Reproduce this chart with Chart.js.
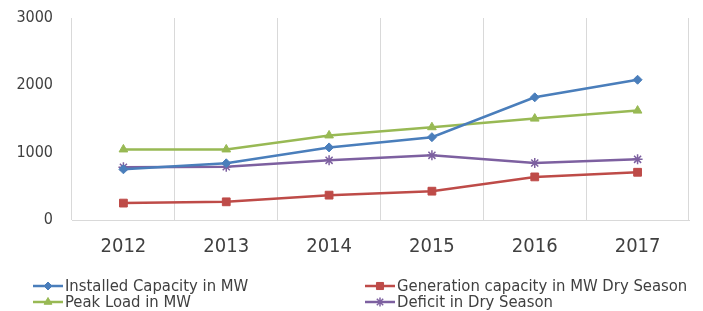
<!DOCTYPE html>
<html lang="en">
<head>
    <meta charset="UTF-8">
    <title>Capacity and Load</title>
    <style>
        body { margin: 0; background: #fff; }
        #wrap { width: 703px; height: 311px; position: relative; }
    </style>
    <script src="https://cdn.jsdelivr.net/npm/chart.js"></script>
</head>
<body>
<div id="wrap"><canvas id="grafico" width="703" height="311"></canvas></div>

<script>
    const anos = ['2012', '2013', '2014', '2015', '2016', '2017'];
    const instalada = [753, 842, 1078, 1230, 1822, 2083];
    const geracao = [251, 270, 369, 428, 640, 709];
    const pico = [1048, 1048, 1256, 1378, 1506, 1625];
    const deficit = [783, 790, 886, 960, 846, 901];
    const ticksY = [0, 1000, 2000, 3000];

    const fonte = '"Liberation Sans Narrow", "DejaVu Sans Condensed", sans-serif';

    function serie(label, data, cor, estilo, raio) {
        return {
            label, data,
            borderColor: cor,
            backgroundColor: cor,
            borderWidth: 2.5,
            pointStyle: estilo,
            pointRadius: raio,
            pointHoverRadius: raio,
            pointBorderWidth: estilo === 'star' ? 1.5 : 1,
            tension: 0
        };
    }

    // legenda em duas colunas, como no original
    const legendaColunas = {
        id: 'legendaColunas',
        afterDraw(chart) {
            const ctx = chart.ctx;
            const pos = [[33, 286], [365, 286], [33, 302], [365, 302]];
            chart.data.datasets.forEach((ds, i) => {
                const [x, y] = pos[i];
                ctx.save();
                ctx.strokeStyle = ds.borderColor;
                ctx.lineWidth = 2.5;
                ctx.beginPath();
                ctx.moveTo(x, y);
                ctx.lineTo(x + 30, y);
                ctx.stroke();
                ctx.fillStyle = ds.backgroundColor;
                ctx.lineWidth = ds.pointBorderWidth;
                if (Chart.helpers && Chart.helpers.drawPoint) {
                    Chart.helpers.drawPoint(ctx, {
                        pointStyle: ds.pointStyle,
                        radius: ds.pointRadius - 0.5,
                        rotation: 0,
                        borderWidth: ds.pointBorderWidth
                    }, x + 15, y);
                }
                ctx.fillStyle = '#404040';
                ctx.font = '16.5px ' + fonte;
                ctx.textBaseline = 'middle';
                ctx.fillText(ds.label, x + 32, y + 1);
                ctx.restore();
            });
        }
    };

    new Chart(document.getElementById('grafico'), {
        type: 'line',
        data: {
            labels: anos,
            datasets: [
                serie('Installed Capacity in MW', instalada, '#4A7EBB', 'rectRot', 4.5),
                serie('Generation capacity in MW Dry Season', geracao, '#BE4B48', 'rect', 5.5),
                serie('Peak Load in MW', pico, '#98B954', 'triangle', 5),
                serie('Deficit in Dry Season', deficit, '#7D60A0', 'star', 5)
            ]
        },
        options: {
            responsive: false,
            animation: false,
            devicePixelRatio: 1,
            layout: { padding: { left: 0, right: 14, top: 0, bottom: 0 } },
            plugins: {
                legend: { display: false },
                tooltip: { enabled: false }
            },
            scales: {
                x: {
                    offset: true,
                    grid: { offset: true, color: '#d9d9d9', drawTicks: false },
                    border: { color: '#d9d9d9' },
                    ticks: { color: '#404040', font: { family: fonte, size: 20 }, padding: 15 },
                    afterFit: s => { s.height = 91; }
                },
                y: {
                    min: 0,
                    max: 3000,
                    afterBuildTicks: s => { s.ticks = ticksY.map(v => ({ value: v })); },
                    grid: { display: false, drawTicks: false },
                    border: { display: false },
                    ticks: {
                        color: '#404040',
                        font: { family: fonte, size: 16 },
                        padding: 19,
                        callback: v => String(v)
                    },
                    // o padding dos ticks empurrava a area do grafico para baixo
                    afterFit: s => { s.width = 72; s.paddingTop = 18; s.paddingBottom = 10; }
                }
            }
        },
        plugins: [legendaColunas]
    });
</script>
</body>
</html>
